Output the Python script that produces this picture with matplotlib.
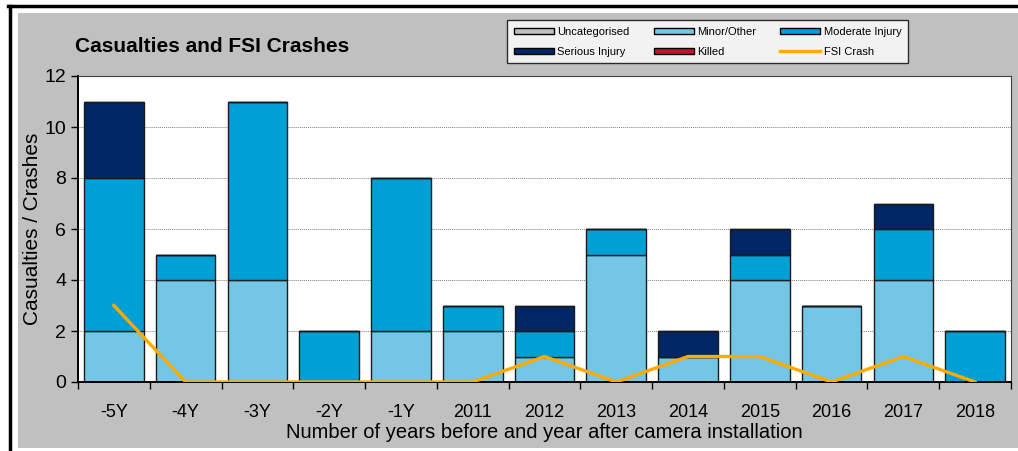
import numpy as np
import matplotlib
matplotlib.use("Agg")
import matplotlib.pyplot as plt
from matplotlib.patches import Rectangle, Patch
from matplotlib.lines import Line2D

plt.rcParams['font.family'] = ['Liberation Sans', 'DejaVu Sans']

# data
periods = ['-5Y', '-4Y', '-3Y', '-2Y', '-1Y', '2011', '2012', '2013', '2014', '2015', '2016', '2017', '2018']
uncategorised = [0, 0, 0, 0, 0, 0, 0, 0, 0, 0, 0, 0, 0]
minor = [2, 4, 4, 0, 2, 2, 1, 5, 1, 4, 3, 4, 0]
moderate = [6, 1, 7, 2, 6, 1, 1, 1, 0, 1, 0, 2, 2]
serious = [3, 0, 0, 0, 0, 0, 1, 0, 1, 1, 0, 1, 0]
killed = [0, 0, 0, 0, 0, 0, 0, 0, 0, 0, 0, 0, 0]
fsi_crash = [3, 0, 0, 0, 0, 0, 1, 0, 1, 1, 0, 1, 0]

c_unc = '#C0C0C0'
c_minor = '#73C6E6'
c_mod = '#00A0D6'
c_ser = '#002664'
c_kill = '#C8102E'
c_fsi = '#FFAA00'

W, H = 1018, 451
fig = plt.figure(figsize=(W / 100, H / 100), dpi=100, facecolor='white')

# gray chart area and black frame lines
fig.add_artist(Rectangle((18 / W, 1 - 448 / H), (W - 18) / W, (448 - 13) / H,
                         transform=fig.transFigure, facecolor='#C0C0C0', edgecolor='none', zorder=0))
fig.add_artist(Line2D([8 / W, 1], [1 - 6 / H, 1 - 6 / H], transform=fig.transFigure, color='black', lw=2.5))
fig.add_artist(Line2D([10 / W, 10 / W], [0, 1 - 6 / H], transform=fig.transFigure, color='black', lw=2.5))

ax = fig.add_axes([78 / W, 1 - 382 / H, (1011 - 78) / W, (382 - 76) / H])
ax.set_facecolor('white')

x = np.arange(len(periods))
bw = 0.83
bottom = np.zeros(len(periods))
for vals, col in [(uncategorised, c_unc), (minor, c_minor), (moderate, c_mod),
                  (serious, c_ser), (killed, c_kill)]:
    v = np.array(vals, dtype=float)
    ax.bar(x, v, bw, bottom=bottom, color=col, edgecolor='#1a1a1a', linewidth=1.0, zorder=2)
    bottom += v

ax.plot(x, fsi_crash, color=c_fsi, lw=2.4, zorder=3, solid_joinstyle='miter')

ax.set_xlim(-0.5, len(periods) - 0.5)
ax.set_ylim(0, 12)
ax.set_yticks(range(0, 13, 2))
ax.tick_params(axis='y', labelsize=14, length=5, direction='out', width=1)
ax.yaxis.grid(True, linestyle=(0, (1, 1)), color='#808080', lw=0.7, zorder=1)

ax.set_xticks(x)
ax.set_xticklabels(periods)
ax.set_xticks(np.arange(-0.5, len(periods), 1), minor=True)
ax.tick_params(axis='x', which='major', length=0, labelsize=13, pad=16)
ax.tick_params(axis='x', which='minor', length=5, width=1, direction='out')

ax.spines['left'].set_linewidth(1.4)
ax.spines['bottom'].set_linewidth(1.4)
ax.spines['top'].set_color('#404040')
ax.spines['right'].set_color('#404040')
ax.spines['top'].set_linewidth(0.8)
ax.spines['right'].set_linewidth(0.8)

ax.set_ylabel('Casualties / Crashes', fontsize=15, labelpad=2)
ax.set_xlabel('Number of years before and year after camera installation', fontsize=14.5, labelpad=1)

fig.text(75 / W, 1 - 46 / H, 'Casualties and FSI Crashes', fontsize=15, fontweight='bold',
         va='center', ha='left')

handles = [
    Patch(facecolor=c_unc, edgecolor='black', label='Uncategorised'),
    Patch(facecolor=c_ser, edgecolor='black', label='Serious Injury'),
    Patch(facecolor=c_minor, edgecolor='black', label='Minor/Other'),
    Patch(facecolor=c_kill, edgecolor='black', label='Killed'),
    Patch(facecolor=c_mod, edgecolor='black', label='Moderate Injury'),
    Line2D([0], [0], color=c_fsi, lw=2.4, label='FSI Crash'),
]
leg = fig.legend(handles=handles, ncol=3, loc='upper left',
                 bbox_to_anchor=(507 / W, 1 - 20 / H), bbox_transform=fig.transFigure,
                 fontsize=8, frameon=True, fancybox=False, edgecolor='black',
                 handlelength=3.6, handleheight=0.5, handletextpad=0.3,
                 columnspacing=2.2, labelspacing=0.9, borderpad=0.6, borderaxespad=0)
leg.get_frame().set_linewidth(1.0)

fig.savefig('out.png', dpi=100, facecolor='white')
